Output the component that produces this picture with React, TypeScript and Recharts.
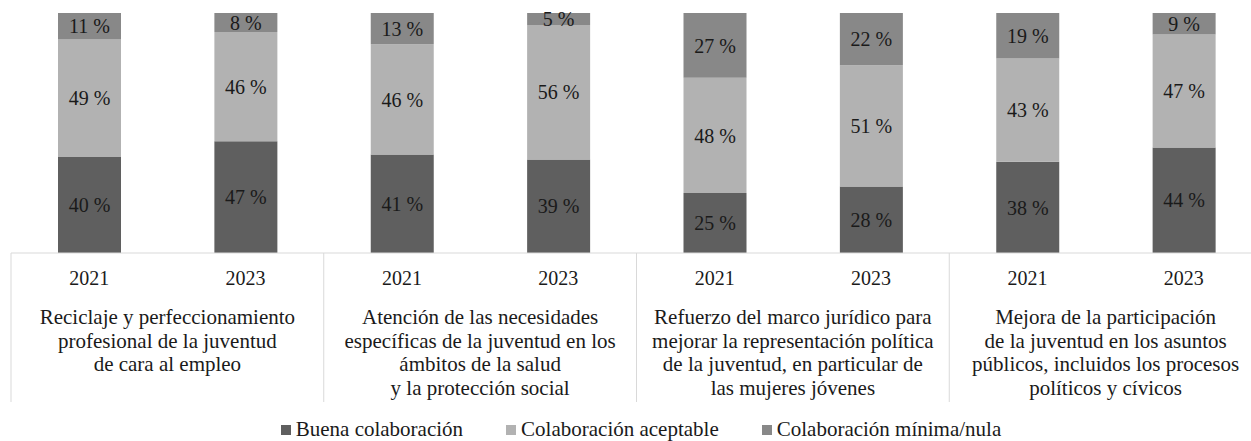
import React from 'react'
import { BarChart, Bar, XAxis, YAxis, Legend, LabelList } from 'recharts'

const years = ['2021', '2023', '2021', '2023', '2021', '2023', '2021', '2023']
const groupLabels = [
  ['Reciclaje y perfeccionamiento', 'profesional de la juventud', 'de cara al empleo'],
  ['Atención de las necesidades', 'específicas de la juventud en los', 'ámbitos de la salud', 'y la protección social'],
  ['Refuerzo del marco jurídico para', 'mejorar la representación política', 'de la juventud, en particular de', 'las mujeres jóvenes'],
  ['Mejora de la participación', 'de la juventud en los asuntos', 'públicos, incluidos los procesos', 'políticos y cívicos']
]
const buena = [40, 47, 41, 39, 25, 28, 38, 44]
const aceptable = [49, 46, 46, 56, 48, 51, 43, 47]
const minima = [11, 8, 13, 5, 27, 22, 19, 9]

const seriesNames = ['Buena colaboración', 'Colaboración aceptable', 'Colaboración mínima/nula']
const colors = ['#5f5f5f', '#b2b2b2', '#888888']

const data = years.map((year, i) => ({
  id: i,
  year,
  buena: buena[i],
  aceptable: aceptable[i],
  minima: minima[i]
}))

const FONT = '"Liberation Serif", "Times New Roman", serif'
const CHART_W = 1273
const CHART_H = 441
const MARGIN = { top: 13, right: 11, left: 11, bottom: 0 }
const BAND = (CHART_W - MARGIN.left - MARGIN.right) / years.length

const AxisTick = (props: any) => {
  const { x, y, index } = props
  const i = index ?? props.payload?.index ?? 0
  const g = Math.floor(i / 2)
  return (
    <g>
      <text x={x} y={y + 32} textAnchor="middle" fontSize={20} fontFamily={FONT} fill="#1a1a1a">
        {years[i]}
      </text>
      {i % 2 === 0 && (
        <>
          <line x1={x - BAND / 2} x2={x - BAND / 2} y1={y} y2={y + 149} stroke="#d9d9d9" strokeWidth={1} />
          <text x={x + BAND / 2} textAnchor="middle" fontSize={21} fontFamily={FONT} fill="#1a1a1a">
            {groupLabels[g].map((line, k) => (
              <tspan key={k} x={x + BAND / 2} y={y + 71 + k * 23.5}>
                {line}
              </tspan>
            ))}
          </text>
        </>
      )}
    </g>
  )
}

const LegendContent = () => (
  <div
    style={{
      height: 38,
      display: 'flex',
      justifyContent: 'center',
      alignItems: 'flex-end',
      gap: 43,
      paddingLeft: 9,
      paddingBottom: 1,
      boxSizing: 'border-box',
      fontFamily: FONT,
      fontSize: 21,
      color: '#1a1a1a',
      lineHeight: '21px'
    }}
  >
    {seriesNames.map((name, i) => (
      <div key={name} style={{ display: 'flex', alignItems: 'center', whiteSpace: 'nowrap' }}>
        <span style={{ display: 'inline-block', width: 10, height: 10, background: colors[i], marginRight: 5 }} />
        {name}
      </div>
    ))}
  </div>
)

const labelProps = {
  position: 'center' as const,
  fontSize: 20,
  fontFamily: FONT,
  style: { fontFamily: FONT },
  fill: '#1a1a1a',
  formatter: (v: any) => `${v} %`
}

export default function App() {
  return (
    <div style={{ position: 'absolute', left: 0, top: 0, width: 1251, height: 441, overflow: 'hidden', background: '#fff' }}>
      <BarChart
        width={CHART_W}
        height={CHART_H}
        data={data}
        margin={MARGIN}
        stackOffset="expand"
        barSize={63}
        style={{ fontFamily: FONT }}
      >
        <XAxis
          dataKey="id"
          height={150}
          tickLine={false}
          tickSize={0}
          tickMargin={0}
          axisLine={{ stroke: '#d9d9d9' }}
          tick={(p: any) => <AxisTick {...p} />}
          interval={0}
        />
        <YAxis hide domain={[0, 1]} />
        <Legend verticalAlign="bottom" content={() => <LegendContent />} />
        <Bar dataKey="buena" stackId="a" fill={colors[0]} isAnimationActive={false}>
          <LabelList dataKey="buena" {...labelProps} />
        </Bar>
        <Bar dataKey="aceptable" stackId="a" fill={colors[1]} isAnimationActive={false}>
          <LabelList dataKey="aceptable" {...labelProps} />
        </Bar>
        <Bar dataKey="minima" stackId="a" fill={colors[2]} isAnimationActive={false}>
          <LabelList dataKey="minima" {...labelProps} />
        </Bar>
      </BarChart>
    </div>
  )
}
